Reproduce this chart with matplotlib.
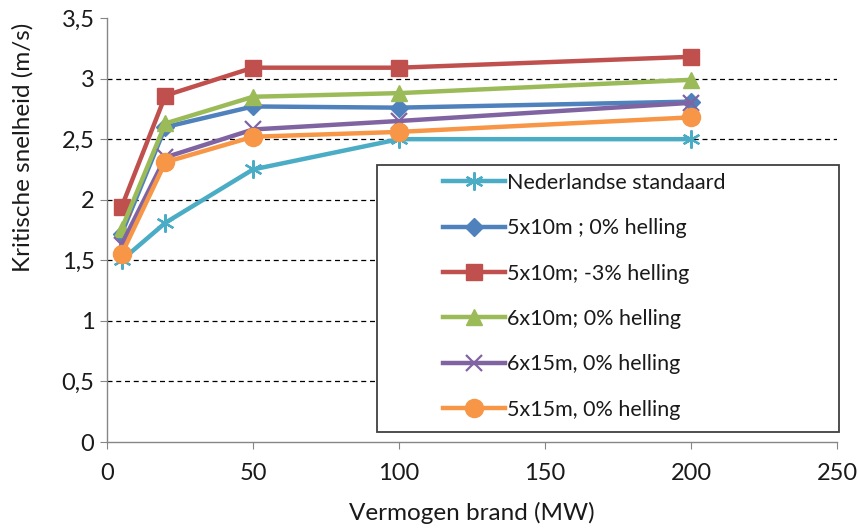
import numpy as np
import matplotlib.pyplot as plt
from matplotlib.patches import Rectangle

plt.rcParams['font.family'] = ['Lato', 'DejaVu Sans']

# vermogen brand (MW)
vermogen = [5, 20, 50, 100, 200]

# kritische snelheid (m/s) per configuratie
ned_standaard = [1.50, 1.81, 2.25, 2.50, 2.50]
v_5x10_0 = [1.72, 2.60, 2.77, 2.76, 2.81]
v_5x10_m3 = [1.94, 2.86, 3.09, 3.09, 3.18]
v_6x10_0 = [1.76, 2.63, 2.85, 2.88, 2.99]
v_6x15_0 = [1.63, 2.35, 2.58, 2.65, 2.80]
v_5x15_0 = [1.55, 2.31, 2.52, 2.56, 2.68]

labels = ['Nederlandse standaard', '5x10m ; 0% helling', '5x10m; -3% helling',
          '6x10m; 0% helling', '6x15m, 0% helling', '5x15m, 0% helling']

y_ticks = [0, 0.5, 1, 1.5, 2, 2.5, 3, 3.5]
y_ticklabels = ['0', '0,5', '1', '1,5', '2', '2,5', '3', '3,5']
x_ticks = [0, 50, 100, 150, 200, 250]

series = [
	(ned_standaard, '#4BACC6', (6, 2, 0), 13, 1.6),
	(v_5x10_0, '#4F81BD', 'D', 9, 0),
	(v_5x10_m3, '#C0504D', 's', 12, 0),
	(v_6x10_0, '#9BBB59', '^', 12, 0),
	(v_6x15_0, '#8064A2', 'x', 12, 1.6),
	(v_5x15_0, '#F79646', 'o', 13, 0),
]

fig = plt.figure(figsize=(8.58, 5.30), dpi=100)
ax = fig.add_axes([0.1247, 0.166, 0.851, 0.800])

handles = []
for (vals, color, marker, ms, mew), lab in zip(series, labels):
	h, = ax.plot(vermogen, vals, color=color, lw=3.2, marker=marker, ms=ms,
				 mew=mew if mew else 1, mec=color, mfc=color, label=lab, zorder=3)
	handles.append(h)

ax.set_xlim(0, 250)
ax.set_ylim(0, 3.5)
ax.set_xticks(x_ticks)
ax.set_yticks(y_ticks)
ax.set_yticklabels(y_ticklabels)
ax.tick_params(axis='both', direction='out', length=5, color='#868686', labelsize=17,
			   labelcolor='#1a1a1a')
ax.tick_params(axis='x', pad=10)
ax.tick_params(axis='y', pad=4)

for y in y_ticks[1:-1]:
	ax.axhline(y, color='black', lw=0.9, ls=(0, (4, 3)), zorder=1)

for s in ['top', 'right']:
	ax.spines[s].set_visible(False)
for s in ['left', 'bottom']:
	ax.spines[s].set_color('#868686')
	ax.spines[s].set_linewidth(1.0)

ax.set_xlabel('Vermogen brand (MW)', fontsize=17.5, labelpad=13, color='#1a1a1a')
ax.set_ylabel('Kritische snelheid (m/s)', fontsize=17.5, color='#1a1a1a')
ax.yaxis.set_label_coords(-0.10, 0.696)

# legend box
ax.add_patch(Rectangle((0.37, 0.024), 0.632, 0.630, transform=ax.transAxes,
					   fill=True, facecolor='white', edgecolor='#404040', lw=1.3,
					   zorder=4, clip_on=False))
leg = ax.legend(handles=handles, loc='upper left', bbox_to_anchor=(0.46, 0.635),
				frameon=False, fontsize=15.5, handlelength=2.9, handletextpad=0.1,
				labelspacing=1.18, borderaxespad=0, borderpad=0, labelcolor='#1a1a1a')
leg.set_zorder(5)

fig.savefig('out.png', dpi=100)
plt.close(fig)
